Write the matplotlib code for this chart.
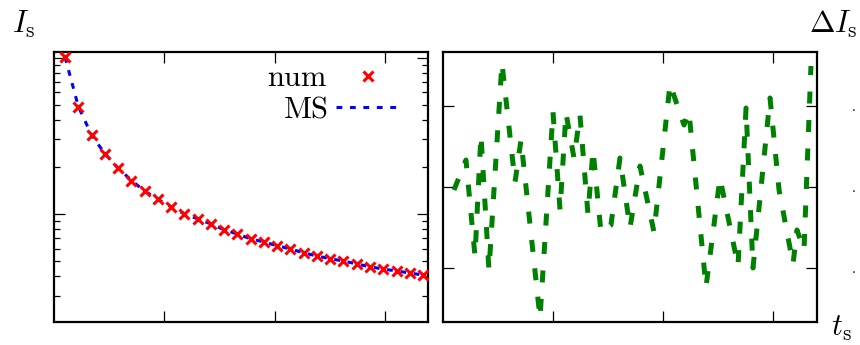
import matplotlib
matplotlib.use("Agg")
import matplotlib.pyplot as plt
from matplotlib.ticker import LogLocator, NullFormatter

plt.rcParams["mathtext.fontset"] = "cm"
plt.rcParams["font.family"] = ["DejaVu Serif"]

# ---- left panel: I_s(t_s), numerics vs MS model ----
t_num = [0.10, 0.22, 0.34, 0.46, 0.58, 0.70, 0.82, 0.94, 1.06, 1.18,
         1.30, 1.42, 1.54, 1.66, 1.78, 1.90, 2.02, 2.14, 2.26, 2.38,
         2.50, 2.62, 2.74, 2.86, 2.98, 3.10, 3.22, 3.34]
I_num = [10.15, 4.85, 3.21, 2.42, 1.97, 1.63, 1.40, 1.25, 1.11, 1.00,
         0.929, 0.863, 0.790, 0.744, 0.691, 0.662, 0.624, 0.597, 0.562, 0.538,
         0.515, 0.500, 0.478, 0.457, 0.444, 0.431, 0.419, 0.406]
I_ms = [10.10, 4.88, 3.20, 2.43, 1.97, 1.64, 1.40, 1.24, 1.11, 1.00,
        0.930, 0.862, 0.792, 0.743, 0.692, 0.661, 0.625, 0.596, 0.563, 0.537,
        0.516, 0.499, 0.478, 0.458, 0.443, 0.431, 0.418, 0.406]

# ---- right panel: deviation Delta I_s(t_s) ----
t_dev = [0.100, 0.209, 0.291, 0.345, 0.418, 0.536, 0.655, 0.709, 0.882, 1.000,
         1.064, 1.118, 1.191, 1.245, 1.318, 1.364, 1.436, 1.527, 1.609, 1.700,
         1.791, 1.918, 2.064, 2.191, 2.236, 2.391, 2.518, 2.682, 2.755, 2.818,
         2.973, 3.055, 3.182, 3.218, 3.282, 3.345]
dI = [-0.037, 0.333, -0.852, 0.642, -1.025, 1.531, 0.062, 0.580, -1.617, 0.926,
      -0.284, 0.914, 0.358, 0.889, -0.333, 0.457, -0.556, -0.469, 0.358, -0.506,
      0.259, -0.556, 1.272, 0.765, 0.926, -1.235, 0.111, -0.975, 0.975, -1.000,
      1.099, -0.037, -0.951, -0.531, -0.778, 1.494]

fig = plt.figure(figsize=(8.6, 3.45), dpi=100)
ax1 = fig.add_axes([0.0628, 0.0667, 0.4349, 0.7826])
ax2 = fig.add_axes([0.5151, 0.0667, 0.4349, 0.7826])

ax1.plot(t_num, I_ms, color="blue", lw=2.2, linestyle=(0, (1.9, 2.5)),
         label=r"$\mathrm{MS}$", zorder=2)
ax1.plot(t_num, I_num, linestyle="none", marker="x", color="red", ms=7, mew=2.2,
         label=r"$\mathrm{num}$", zorder=3)
ax1.set_yscale("log")
ax1.set_xlim(0, 3.385)
ax1.set_ylim(0.203, 10.9)
ax1.set_xticks([1, 2, 3])
ax1.yaxis.set_major_locator(LogLocator(base=10))
ax1.yaxis.set_minor_locator(LogLocator(base=10, subs=range(2, 10)))
ax1.yaxis.set_minor_formatter(NullFormatter())
ax1.tick_params(labelleft=False, labelbottom=False)

h, l = ax1.get_legend_handles_labels()
ax1.legend(h[::-1], l[::-1], loc="upper right", bbox_to_anchor=(0.925, 0.962),
           frameon=False, markerfirst=False, fontsize=22, handlelength=2.1,
           handletextpad=0.25, labelspacing=0.0, borderpad=0, borderaxespad=0)

ax2.plot(t_dev, dI, color="green", lw=3.6, linestyle=(0, (2.4, 3.3)))
ax2.set_xlim(0, 3.4)
ax2.set_ylim(-1.667, 1.667)
ax2.set_xticks([1, 2, 3])
ax2.set_yticks([-1, 0, 1])
ax2.set_yticklabels([".", ".", "."])
ax2.tick_params(labelleft=False, labelbottom=False, labelright=True)
ax2.tick_params(axis="y", which="major", pad=25, labelsize=9)

for ax in (ax1, ax2):
    ax.tick_params(which="both", direction="in", top=True, right=True, width=0.9)
    ax.tick_params(which="major", length=8)
    ax.tick_params(which="minor", length=4)
    for s in ax.spines.values():
        s.set_linewidth(1.6)

fig.text(12 / 860, 1 - 33 / 345, r"$I_\mathrm{s}$", fontsize=22, ha="left", va="baseline")
fig.text(858 / 860, 1 - 33 / 345, r"$\Delta I_\mathrm{s}$", fontsize=22, ha="right", va="baseline")
fig.text(831 / 860, 1 - 336 / 345, r"$t_\mathrm{s}$", fontsize=22, ha="left", va="baseline")

fig.savefig("out.png", dpi=100)
